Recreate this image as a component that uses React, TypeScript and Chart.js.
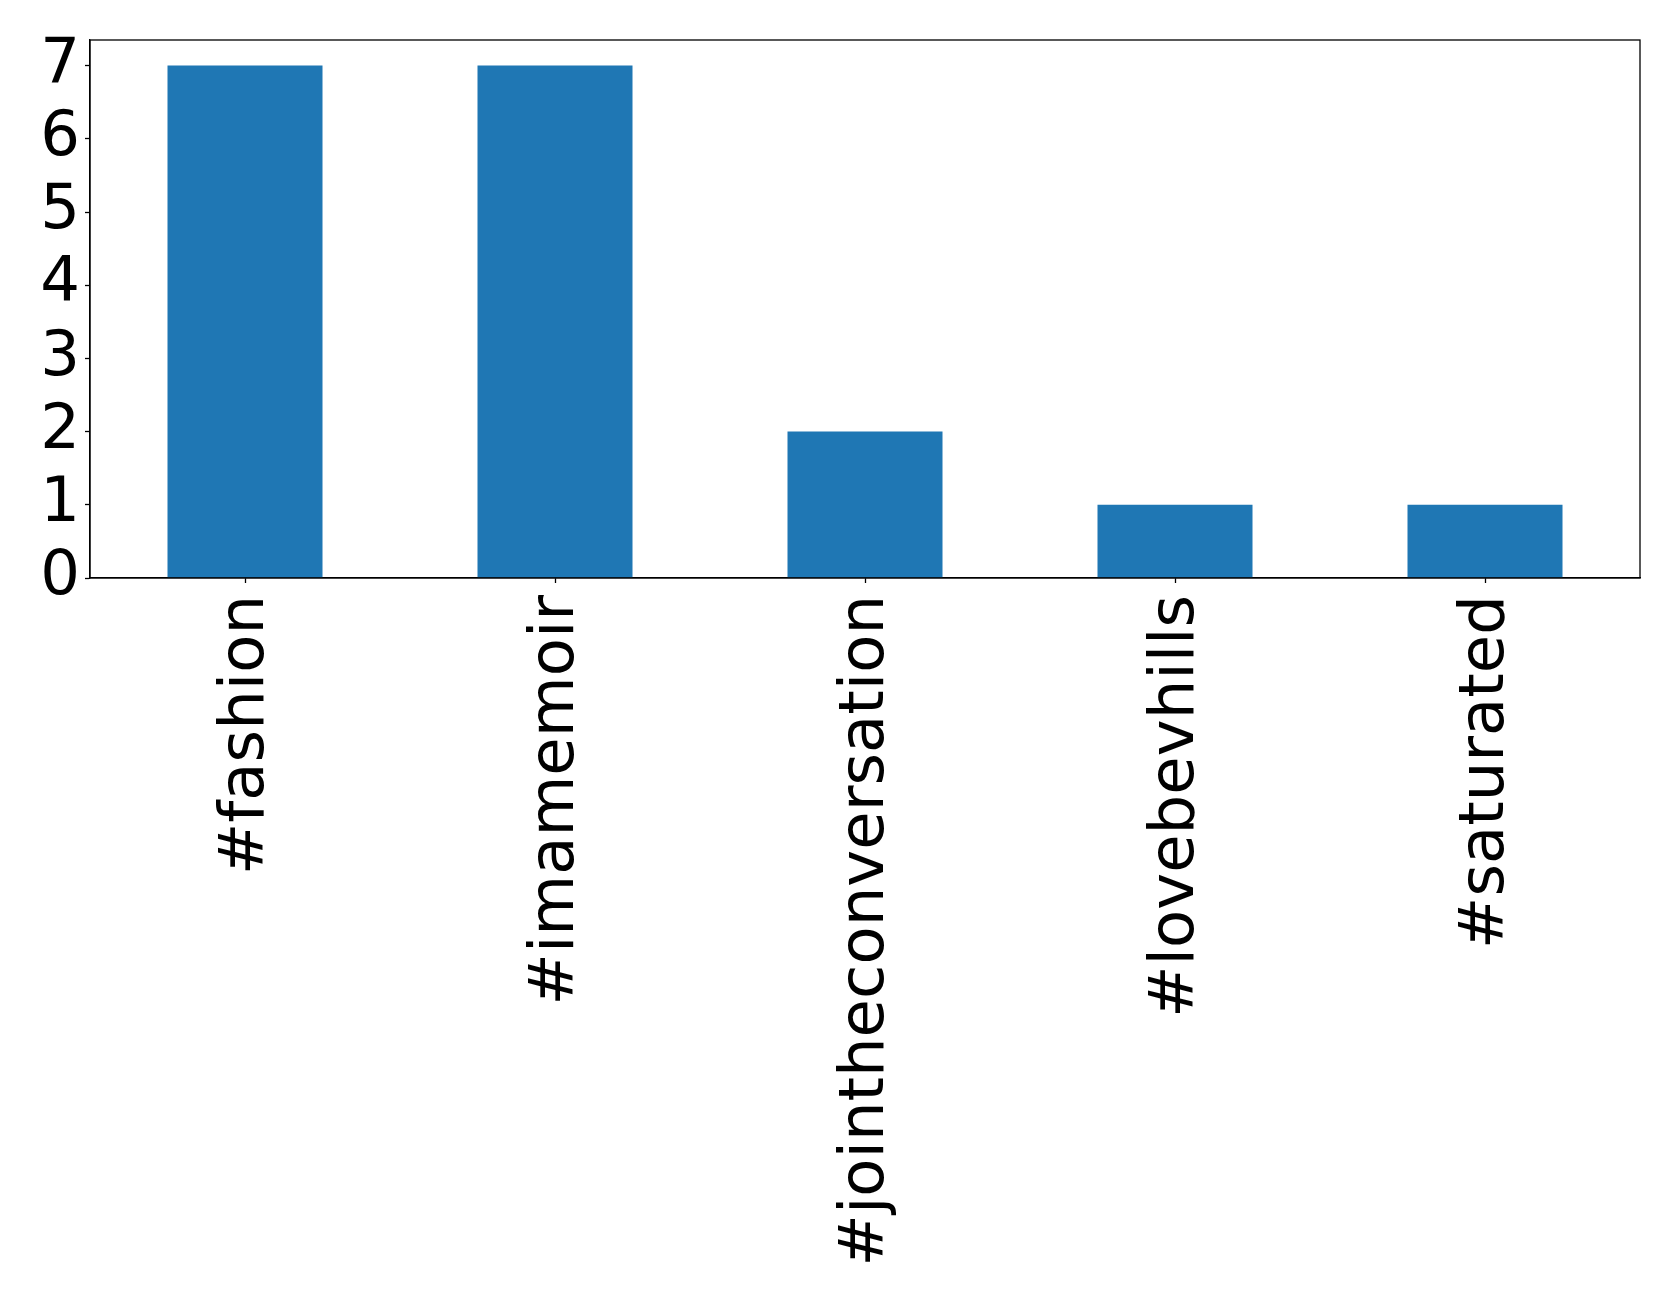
import React, { useEffect, useRef } from "react";
import { Chart, registerables } from "chart.js";

Chart.register(...registerables);

const categories = ["#fashion", "#imamemoir", "#jointheconversation", "#lovebevhills", "#saturated"];
const counts = [7, 7, 2, 1, 1];
const yTicks = [0, 1, 2, 3, 4, 5, 6, 7];

const W = 1679;
const H = 1299;

const frame = {
  id: "frame",
  afterDraw(chart: any) {
    const { ctx, chartArea } = chart;
    ctx.save();
    ctx.strokeStyle = "#000";
    ctx.lineWidth = 1.3;
    ctx.strokeRect(chartArea.left, chartArea.top, chartArea.right - chartArea.left, chartArea.bottom - chartArea.top);
    ctx.restore();
  },
};

export default function App() {
  const ref = useRef<HTMLCanvasElement>(null);
  useEffect(() => {
    document.body.style.margin = "0";
    const font = { family: "DejaVu Sans", size: 62.5 };
    const chart = new Chart(ref.current!, {
      type: "bar",
      data: {
        labels: categories,
        datasets: [
          {
            data: counts,
            backgroundColor: "#1f77b4",
            barPercentage: 0.5,
            categoryPercentage: 1,
          },
        ],
      },
      options: {
        responsive: false,
        animation: false,
        devicePixelRatio: 1,
        layout: { padding: { top: 40, right: 39, left: 0, bottom: 0 } },
        plugins: { legend: { display: false }, tooltip: { enabled: false } },
        scales: {
          x: {
            grid: { display: true, offset: false, drawOnChartArea: false, drawTicks: true, tickLength: 5, tickColor: "#000", tickWidth: 1.3 },
            border: { display: true, color: "#000", width: 1.3 },
            ticks: { color: "#000", font, minRotation: 90, maxRotation: 90, padding: 12, autoSkip: false, labelOffset: 2 },
            afterFit(scale: any) {
              scale.height = H - 578;
              scale.paddingLeft = 0;
              scale.paddingRight = 0;
              scale.paddingTop = 0;
              scale.paddingBottom = 0;
            },
          },
          y: {
            min: 0,
            max: 7.35,
            grid: { display: true, drawOnChartArea: false, drawTicks: true, tickLength: 5, tickColor: "#000", tickWidth: 1.3 },
            border: { display: true, color: "#000", width: 1.3 },
            ticks: { color: "#000", font, padding: 5, stepSize: 1, autoSkip: false },
            afterBuildTicks(scale: any) {
              scale.ticks = yTicks.map((v) => ({ value: v }));
            },
            afterFit(scale: any) {
              scale.width = 90;
              scale.paddingTop = 0;
              scale.paddingBottom = 0;
              scale.paddingLeft = 0;
              scale.paddingRight = 0;
            },
          },
        },
      },
      plugins: [frame],
    });
    return () => chart.destroy();
  }, []);
  return (
    <div style={{ position: "absolute", left: 0, top: 0, width: W, height: H, background: "#fff" }}>
      <canvas ref={ref} width={W} height={H} style={{ width: W, height: H }} />
    </div>
  );
}
